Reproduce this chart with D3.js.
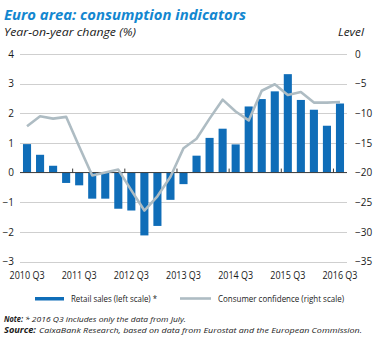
<!DOCTYPE html>
<html>
<head>
<meta charset="utf-8">
<script src="https://cdn.jsdelivr.net/npm/d3@7"></script>
<style>
  html, body { margin: 0; padding: 0; background: #fff; }
  svg { display: block; font-family: "Open Sans", "Noto Sans", sans-serif; }
</style>
</head>
<body>
<svg id="chart" width="377" height="338"></svg>
<script>
// Quarters shown on the category axis
const quarters = [
  "2010 Q3", "2010 Q4", "2011 Q1", "2011 Q2", "2011 Q3", "2011 Q4",
  "2012 Q1", "2012 Q2", "2012 Q3", "2012 Q4", "2013 Q1", "2013 Q2",
  "2013 Q3", "2013 Q4", "2014 Q1", "2014 Q2", "2014 Q3", "2014 Q4",
  "2015 Q1", "2015 Q2", "2015 Q3", "2015 Q4", "2016 Q1", "2016 Q2", "2016 Q3"
];
// Retail sales, year-on-year change (%) – left scale
const retailSales = [
  0.96, 0.60, 0.23, -0.35, -0.43, -0.88,
  -0.88, -1.22, -1.28, -2.12, -1.80, -0.92,
  -0.39, 0.57, 1.17, 1.48, 0.95, 2.23,
  2.48, 2.74, 3.32, 2.45, 2.12, 1.58, 2.33
];
// Consumer confidence, level – right scale
const consumerConfidence = [
  -12.2, -10.5, -10.9, -10.6, -15.6, -20.5,
  -20.0, -19.5, -23.0, -26.4, -24.0, -20.7,
  -15.9, -14.3, -10.9, -7.7, -9.7, -11.2,
  -6.2, -5.1, -6.9, -6.4, -8.2, -8.2, -8.1
];
// Axis ticks
const leftTicks = [4, 3, 2, 1, 0, -1, -2, -3];
const rightTicks = [0, -5, -10, -15, -20, -25, -30, -35];
const xTickLabels = ["2010 Q3", "2011 Q3", "2012 Q3", "2013 Q3", "2014 Q3", "2015 Q3", "2016 Q3"];

const blue = "#0f6db8";
const lineGrey = "#aebcc3";
const titleBlue = "#1387d0";
const textColor = "#1a1a1a";

const svg = d3.select("#chart");

const x = d3.scaleBand().domain(quarters).range([20.5, 346.5]).paddingInner(0.38).paddingOuter(0.19);
const yL = d3.scaleLinear().domain([-3, 4]).range([261.5, 54]);
const yR = d3.scaleLinear().domain([-35, 0]).range([261.5, 54]);

// Fitted text helper
function label(xPos, yPos, str, size, width, opts = {}) {
  return svg.append("text").attr("x", xPos).attr("y", yPos)
    .attr("fill", opts.fill || textColor).attr("font-size", size)
    .attr("font-weight", opts.bold ? 700 : 400)
    .attr("font-style", opts.italic ? "italic" : "normal")
    .attr("textLength", width).attr("lengthAdjust", "spacingAndGlyphs")
    .text(str);
}

// Title block
label(4, 20, "Euro area: consumption indicators", 15, 242, { bold: true, italic: true, fill: titleBlue });
label(4, 36, "Year-on-year change (%)", 10.5, 132, { italic: true });
label(338, 36, "Level", 10.5, 26, { italic: true });

// Horizontal gridlines
svg.append("g").selectAll("line").data(leftTicks.filter(d => d !== 0)).join("line")
  .attr("x1", 20).attr("x2", 347)
  .attr("y1", d => Math.round(yL(d)) + 0.5).attr("y2", d => Math.round(yL(d)) + 0.5)
  .attr("stroke", "#cfcfcf").attr("stroke-width", 1);

// Left axis labels
const leftAxis = d3.axisLeft(yL).tickValues(leftTicks).tickSize(0).tickPadding(0).tickFormat(d3.format("d"));
const gL = svg.append("g").attr("transform", "translate(14,0)").call(leftAxis);
gL.select(".domain").remove();
gL.selectAll("text").attr("font-size", 10).attr("fill", textColor).attr("font-family", "'Open Sans', sans-serif");

// Right axis labels
const rightAxis = d3.axisRight(yR).tickValues(rightTicks).tickSize(0).tickPadding(0).tickFormat(d3.format("d"));
const gR = svg.append("g").attr("transform", "translate(355,0)").call(rightAxis);
gR.select(".domain").remove();
gR.selectAll("text").attr("font-size", 10).attr("fill", textColor).attr("font-family", "'Open Sans', sans-serif");

// Bars
svg.append("g").selectAll("rect").data(quarters).join("rect")
  .attr("x", d => x(d))
  .attr("width", x.bandwidth())
  .attr("y", (d, i) => yL(Math.max(0, retailSales[i])))
  .attr("height", (d, i) => Math.abs(yL(retailSales[i]) - yL(0)))
  .attr("fill", blue);

// Zero line with yearly ticks
const y0 = yL(0);
svg.append("line").attr("x1", 20).attr("x2", 347).attr("y1", y0).attr("y2", y0)
  .attr("stroke", "#3a3a3a").attr("stroke-width", 1);
const step = x.step();
const tickBounds = xTickLabels.slice(1).map(q => x(q) - (step - x.bandwidth()) / 2);
svg.append("g").selectAll("line").data(tickBounds).join("line")
  .attr("x1", d => d).attr("x2", d => d)
  .attr("y1", y0 - 4).attr("y2", y0)
  .attr("stroke", "#3a3a3a").attr("stroke-width", 1);

// Consumer confidence line
const line = d3.line()
  .x((d, i) => x(quarters[i]) + x.bandwidth() / 2)
  .y(d => yR(d));
svg.append("path").datum(consumerConfidence)
  .attr("d", line)
  .attr("fill", "none").attr("stroke", lineGrey).attr("stroke-width", 2.6)
  .attr("stroke-linejoin", "round").attr("stroke-linecap", "butt");

// X axis labels
svg.append("g").selectAll("text").data(xTickLabels).join("text")
  .attr("x", d => x(d) + x.bandwidth() / 2)
  .attr("y", 279)
  .attr("text-anchor", "middle").attr("font-size", 10).attr("fill", textColor)
  .attr("textLength", 35).attr("lengthAdjust", "spacingAndGlyphs")
  .text(d => d);

// Legend
svg.append("rect").attr("x", 35).attr("y", 297).attr("width", 29).attr("height", 3.5).attr("fill", blue);
label(71, 301.5, "Retail sales (left scale) *", 9.5, 86);
svg.append("line").attr("x1", 180).attr("x2", 211).attr("y1", 298.5).attr("y2", 298.5)
  .attr("stroke", lineGrey).attr("stroke-width", 2.6);
label(218, 301.5, "Consumer confidence (right scale)", 9.5, 126);

// Notes
label(4, 321.5, "Note:", 8, 19, { bold: true, italic: true });
label(25, 321.5, "* 2016 Q3 includes only the data from July.", 8, 161, { italic: true });
label(4, 332.5, "Source:", 8, 32, { bold: true, italic: true });
label(39, 332.5, "CaixaBank Research, based on data from Eurostat and the European Commission.", 8, 323, { italic: true });
</script>
</body>
</html>
